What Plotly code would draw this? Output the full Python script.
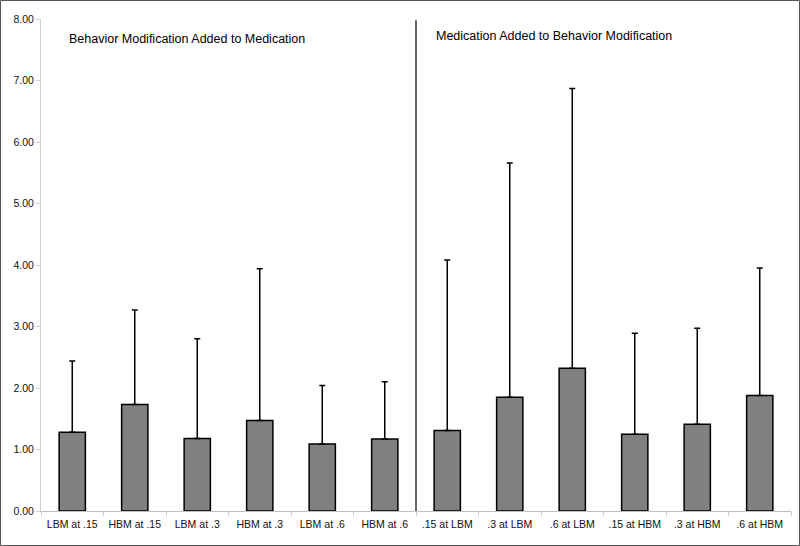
import plotly.graph_objects as go

labels = ["LBM at .15", "HBM at .15", "LBM at .3", "HBM at .3", "LBM at .6", "HBM at .6",
          ".15 at LBM", ".3 at LBM", ".6 at LBM", ".15 at HBM", ".3 at HBM", ".6 at HBM"]
means = [1.28, 1.73, 1.18, 1.47, 1.09, 1.17, 1.31, 1.85, 2.32, 1.25, 1.41, 1.88]
upper = [2.44, 3.27, 2.80, 3.94, 2.04, 2.10, 4.08, 5.66, 6.87, 2.89, 2.97, 3.95]
y_ticks = [0, 1, 2, 3, 4, 5, 6, 7, 8]
panel_titles = ["Behavior Modification Added to Medication",
                "Medication Added to Behavior Modification"]

W, H = 800, 546
ML, MR, MT, MB = 41, 9, 19, 35
pw, ph = W - ML - MR, H - MT - MB

fig = go.Figure(go.Bar(
    x=labels, y=means,
    marker=dict(color="#808080", line=dict(color="#000000", width=1.5)),
    width=0.42,
    error_y=dict(type="data", symmetric=False,
                 array=[u - m for u, m in zip(upper, means)],
                 arrayminus=[0] * len(means),
                 color="#000000", thickness=1.5, width=3),
))

# divider line between the two groups
fig.add_shape(type="line", xref="x", yref="y", x0=5.5, x1=5.5, y0=0, y1=7.98,
              line=dict(color="#000000", width=1.2))

# outer border
fig.add_shape(type="rect", xref="paper", yref="paper",
              x0=-ML / pw + 0.5 / pw, x1=1 + (MR - 0.5) / pw,
              y0=-MB / ph + 0.5 / ph, y1=1 + (MT - 0.5) / ph,
              line=dict(color="#555555", width=1), fillcolor="rgba(0,0,0,0)")

fig.add_annotation(text=panel_titles[0], xref="paper", yref="paper",
                   x=(67 - ML) / pw, y=1 - (39 - MT) / ph, xanchor="left", yanchor="middle",
                   showarrow=False, font=dict(size=12.5, color="#000000"))
fig.add_annotation(text=panel_titles[1], xref="paper", yref="paper",
                   x=(434 - ML) / pw, y=1 - (36 - MT) / ph, xanchor="left", yanchor="middle",
                   showarrow=False, font=dict(size=12.5, color="#000000"))

fig.update_layout(
    width=W, height=H, autosize=False,
    margin=dict(l=ML, r=MR, t=MT, b=MB),
    plot_bgcolor="#ffffff", paper_bgcolor="#ffffff",
    font=dict(family="Liberation Sans, Arial, sans-serif", size=10.5, color="#111111"),
    showlegend=False, bargap=0.58,
    xaxis=dict(showline=True, linecolor="#bfbfbf", linewidth=1,
               ticks="outside", tickson="boundaries", ticklen=4, tickcolor="#d0d0d0",
               ticklabelstandoff=3,
               showgrid=False, zeroline=False),
    yaxis=dict(range=[0, 8], tickvals=y_ticks, tickformat=".2f",
               showline=True, linecolor="#d0d0d0", linewidth=1,
               ticks="outside", ticklen=4, tickcolor="#d0d0d0",
               showgrid=False, zeroline=False),
)

fig.write_html("out.html", config={"displayModeBar": False},
               post_script="document.body.style.margin='0';document.body.style.padding='0';")
